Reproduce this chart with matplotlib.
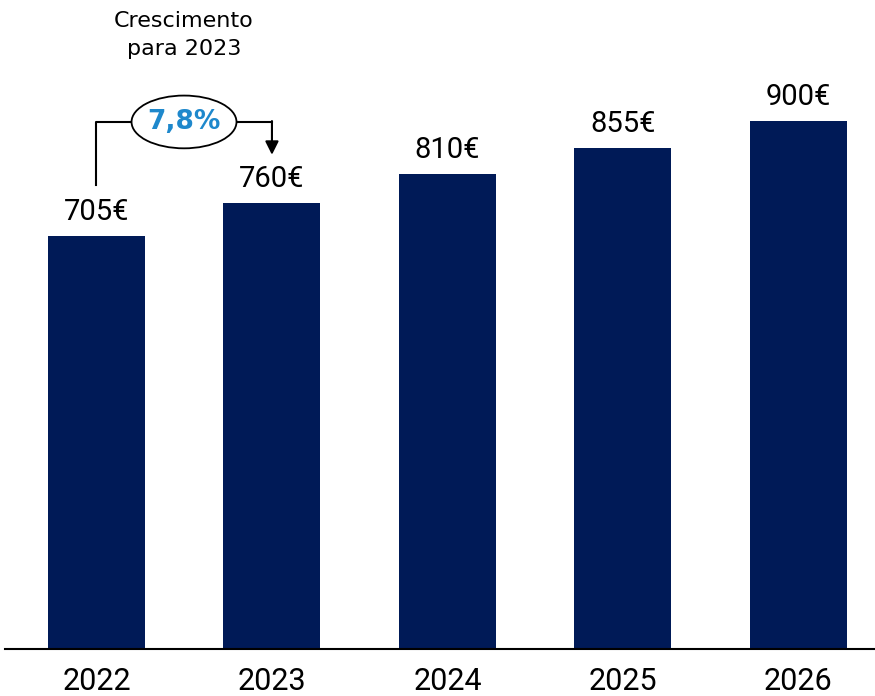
import matplotlib
matplotlib.use("Agg")
import matplotlib.pyplot as plt
from matplotlib.patches import Ellipse

years = ["2022", "2023", "2024", "2025", "2026"]
values = [705, 760, 810, 855, 900]
value_labels = ["705€", "760€", "810€", "855€", "900€"]
growth_label = "7,8%"
growth_title = "Crescimento\npara 2023"

bar_color = "#001A57"
accent = "#1E88CC"

fig = plt.figure(figsize=(8.75, 6.96), dpi=100)
ax = fig.add_axes([5 / 875, 47 / 696, 870 / 875, 649 / 696])

x = range(len(years))
ax.bar(x, values, width=0.553, color=bar_color, zorder=2)

for i, (v, lab) in enumerate(zip(values, value_labels)):
    ax.text(i, v + 17, lab, ha="center", va="bottom", fontsize=21,
            family="Roboto", color="black")

ax.set_xlim(-0.521, 4.436)
ax.set_ylim(0, 1107)
ax.set_xticks(list(x))
ax.set_xticklabels(years, fontsize=22, family="Roboto")
ax.tick_params(axis="x", length=0, pad=13)
ax.set_yticks([])
for s in ["top", "right", "left"]:
    ax.spines[s].set_visible(False)
ax.spines["bottom"].set_linewidth(1.5)

# growth bracket from 2022 to 2023
y_line = 899
ax.plot([0, 0, 0.2], [792, y_line, y_line], color="black", lw=1.5, zorder=3)
ax.plot([0.8, 1.0], [y_line, y_line], color="black", lw=1.5, zorder=3)
ax.annotate("", xy=(1.0, 843), xytext=(1.0, y_line + 1.5),
            arrowprops=dict(arrowstyle="-|>", color="black", lw=1.5,
                            mutation_scale=20, shrinkA=0, shrinkB=0))
ax.add_patch(Ellipse((0.499, 899), 0.598, 90, facecolor="white",
                     edgecolor="black", lw=1.3, zorder=4))
ax.text(0.499, 899, growth_label, ha="center", va="center", fontsize=19,
        fontweight="bold", color=accent, zorder=5)
ax.text(0.499, 1047, growth_title, ha="center", va="center", fontsize=16,
        color="black", linespacing=1.5)

fig.savefig("out.png", dpi=100, facecolor="white")
